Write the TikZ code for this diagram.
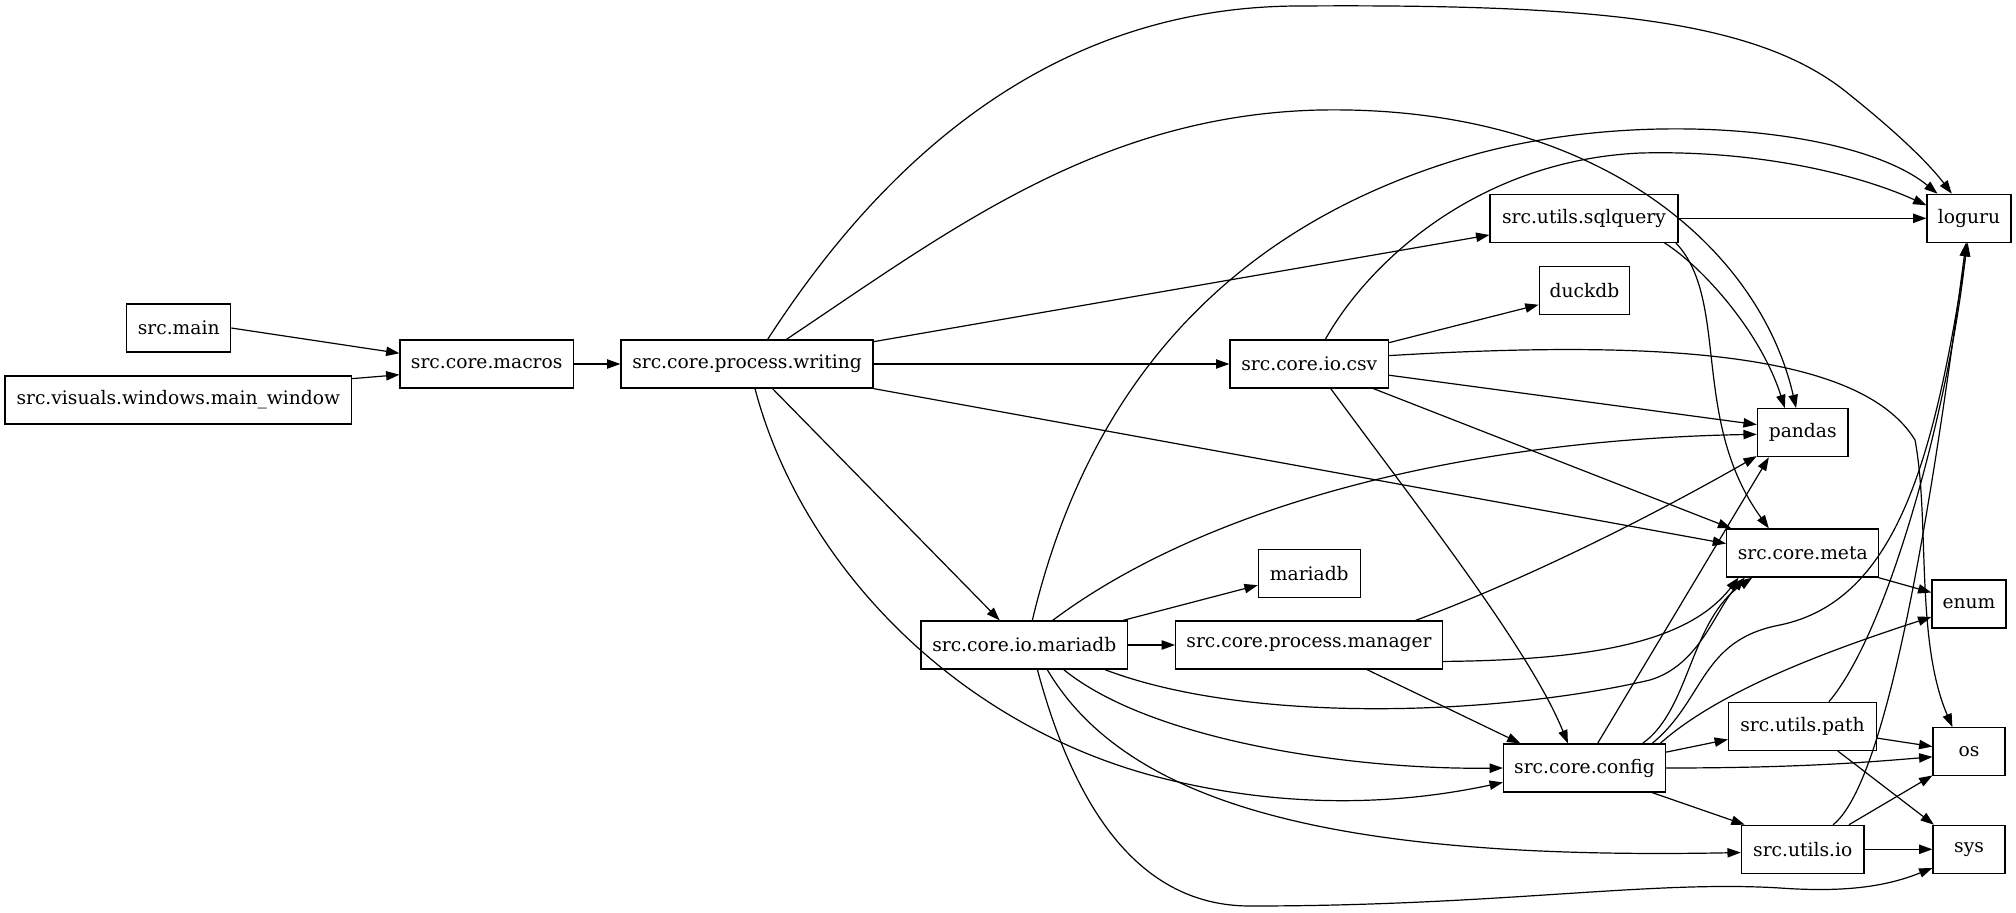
\documentclass[tikz,border=0pt]{standalone}
\usepackage{fontspec}
\setmainfont{DejaVu Serif}
\usetikzlibrary{arrows.meta}

\begin{document}
\begin{tikzpicture}[x=0.75pt, y=-0.75pt, >={Triangle[length=10pt,width=7pt]},
  mod/.style={draw, line width=0.9pt, rectangle, minimum height=36pt, inner sep=0pt,
    font=\fontsize{14pt}{16pt}\selectfont},
  dep/.style={->, line width=0.9pt}]
  \useasboundingbox (0,0) rectangle (2016,913);

  % modules
  \node[mod, minimum width=78pt] (main) at (178.7,328) {src.main};
  \node[mod, minimum width=260pt] (mainwin) at (178.3,400) {src.visuals.windows.main\_window};
  \node[mod, minimum width=130pt] (macros) at (486.7,364) {src.core.macros};
  \node[mod, minimum width=189pt] (writing) at (747,364) {src.core.process.writing};
  \node[mod, minimum width=155pt] (iomaria) at (1024.3,645) {src.core.io.mariadb};
  \node[mod, minimum width=119pt] (csv) at (1309.3,364) {src.core.io.csv};
  \node[mod, minimum width=200pt] (manager) at (1309,645) {src.core.process.manager};
  \node[mod, minimum width=76.5pt] (mariadb) at (1309.3,573.3) {mariadb};
  \node[mod, minimum width=141pt] (sqlquery) at (1584,218.3) {src.utils.sqlquery};
  \node[mod, minimum width=68pt] (duckdb) at (1584.5,290.7) {duckdb};
  \node[mod, minimum width=121.5pt] (config) at (1584.5,768) {src.core.config};
  \node[mod, minimum width=68pt] (pandas) at (1802.7,432.7) {pandas};
  \node[mod, minimum width=114pt] (meta) at (1802.7,553) {src.core.meta};
  \node[mod, minimum width=111pt] (upath) at (1802.5,726.3) {src.utils.path};
  \node[mod, minimum width=92pt] (uio) at (1802.7,849.3) {src.utils.io};
  \node[mod, minimum width=63pt] (loguru) at (1969,218.3) {loguru};
  \node[mod, minimum width=55.5pt] (enum) at (1969,604) {enum};
  \node[mod, minimum width=54pt] (os) at (1969,751.7) {os};
  \node[mod, minimum width=54pt] (sys) at (1969,849.3) {sys};

  % imports
  \draw[dep] (main.east) -- (macros.173);
  \draw[dep] (mainwin.7) -- (macros.187);
  \draw[dep] (macros.east) -- (writing.west);

  \draw[dep] (writing.50) .. controls (890,150) and (1060,6) .. (1300,6)
    .. controls (1600,4) and (1760,20) .. (1850,95)
    .. controls (1900,135) and (1930,165) .. (loguru.125);
  \draw[dep] (writing.32) .. controls (950,230) and (1100,115) .. (1320,110)
    .. controls (1600,105) and (1760,250) .. (pandas.105);
  \draw[dep] (writing.10) -- (sqlquery.190);
  \draw[dep] (writing.east) -- (csv.west);
  \draw[dep] (writing.-11) -- (meta.173);
  \draw[dep] (writing.-44) -- (iomaria.135);
  \draw[dep] (writing.-72) .. controls (800,560) and (950,720) .. (1150,775)
    .. controls (1300,815) and (1420,800) .. (config.190);

  \draw[dep] (csv.57) .. controls (1370,260) and (1480,160) .. (1641,153)
    .. controls (1760,150) and (1860,175) .. (loguru.163);
  \draw[dep] (csv.15) -- (duckdb.197);
  \draw[dep] (csv.6) .. controls (1650,340) and (1860,350) .. (1915,440)
    .. controls (1930,520) and (1915,640) .. (os.124);
  \draw[dep] (csv.-8) -- (pandas.170);
  \draw[dep] (csv.-21) -- (meta.161);
  \draw[dep] (csv.-49) .. controls (1420,510) and (1530,650) .. (config.124);

  \draw[dep] (iomaria.72) .. controls (1080,420) and (1200,230) .. (1480,153)
    .. controls (1650,108) and (1860,130) .. (loguru.142);
  \draw[dep] (iomaria.41) .. controls (1200,510) and (1450,440) .. (pandas.182);
  \draw[dep] (iomaria.14) -- (mariadb.193);
  \draw[dep] (iomaria.east) -- (manager.west);
  \draw[dep] (iomaria.-17) .. controls (1250,725) and (1500,715) .. (1650,680)
    .. controls (1700,665) and (1715,610) .. (meta.203);
  \draw[dep] (iomaria.-32) .. controls (1150,740) and (1350,770) .. (config.west);
  \draw[dep] (iomaria.-47) .. controls (1130,810) and (1350,860) .. (uio.183);
  \draw[dep] (iomaria.-62) .. controls (1075,810) and (1140,906) .. (1250,906)
    .. controls (1500,906) and (1650,880) .. (1780,888)
    .. controls (1850,893) and (1890,885) .. (sys.207);

  \draw[dep] (manager.13) .. controls (1550,570) and (1680,500) .. (pandas.207);
  \draw[dep] (manager.-7) .. controls (1600,660) and (1690,640) .. (meta.201);
  \draw[dep] (manager.-23) -- (config.159);

  \draw[dep] (sqlquery.east) -- (loguru.west);
  \draw[dep] (sqlquery.-17) .. controls (1700,265) and (1760,330) .. (pandas.126);
  \draw[dep] (sqlquery.-15) .. controls (1730,300) and (1690,420) .. (meta.144);

  \draw[dep] (config.62) -- (pandas.216);
  \draw[dep] (config.23) .. controls (1690,710) and (1690,620) .. (meta.206);
  \draw[dep] (config.20) .. controls (1705,700) and (1700,640) .. (1780,625)
    .. controls (1900,600) and (1935,450) .. (loguru.-93);
  \draw[dep] (config.18) .. controls (1720,690) and (1830,650) .. (enum.199);
  \draw[dep] (config.11) -- (upath.190);
  \draw[dep] (config.east) .. controls (1800,768) and (1870,762) .. (os.188);
  \draw[dep] (config.-20) -- (uio.157);

  \draw[dep] (meta.-18) -- (enum.163);

  \draw[dep] (upath.43) .. controls (1890,630) and (1950,400) .. (loguru.-95);
  \draw[dep] (upath.-9) -- (os.172);
  \draw[dep] (upath.-35) -- (sys.145);

  \draw[dep] (uio.39) .. controls (1890,780) and (1935,480) .. (loguru.-97);
  \draw[dep] (uio.28) -- (os.213);
  \draw[dep] (uio.east) -- (sys.west);
\end{tikzpicture}
\end{document}
